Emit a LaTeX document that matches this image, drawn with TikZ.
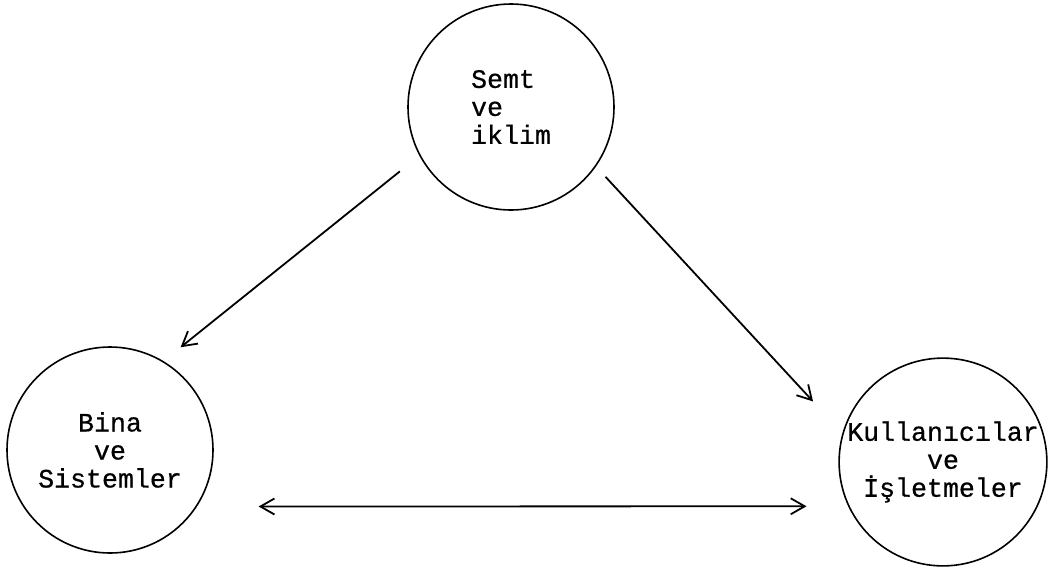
\documentclass[tikz,border=0pt]{standalone}
\usepackage{fontspec}
\newfontfamily\typed{Liberation Mono}[FakeBold=0.6]
\usetikzlibrary{positioning,arrows.meta}

\begin{document}
\begin{tikzpicture}[
  x=0.5pt, y=-0.5pt,
  font=\typed\fontsize{13.3}{14}\selectfont,
  circ/.style={circle, draw, line width=0.8pt, inner sep=0pt, minimum size=103pt},
  flow/.style={-{Straight Barb[length=7pt,width=8pt]}, line width=0.9pt},
  twoway/.style={flow, {Straight Barb[length=7pt,width=8pt]}-{Straight Barb[length=7pt,width=8pt]}},
]
\useasboundingbox (0,0) rectangle (1050,569);

\node[circ, align=left] (semt) at (511,107) {Semt\\ve\\iklim};
\node[circ, align=center] (bina) at (110,450) {Bina\\ve\\Sistemler};
\node[circ, align=center] (kull) at (943,462) {Kullanıcılar\\ve\\İşletmeler};

\draw[flow, shorten <=12.5pt, shorten >=11pt] (semt.208) -- (bina.59);
\draw[flow, shorten <=7pt, shorten >=21.6pt] (semt.325) -- (kull.164);
\draw[twoway, shorten <=30.8pt, shorten >=20.8pt] (bina.327) -- (kull.205);
\end{tikzpicture}
\end{document}
